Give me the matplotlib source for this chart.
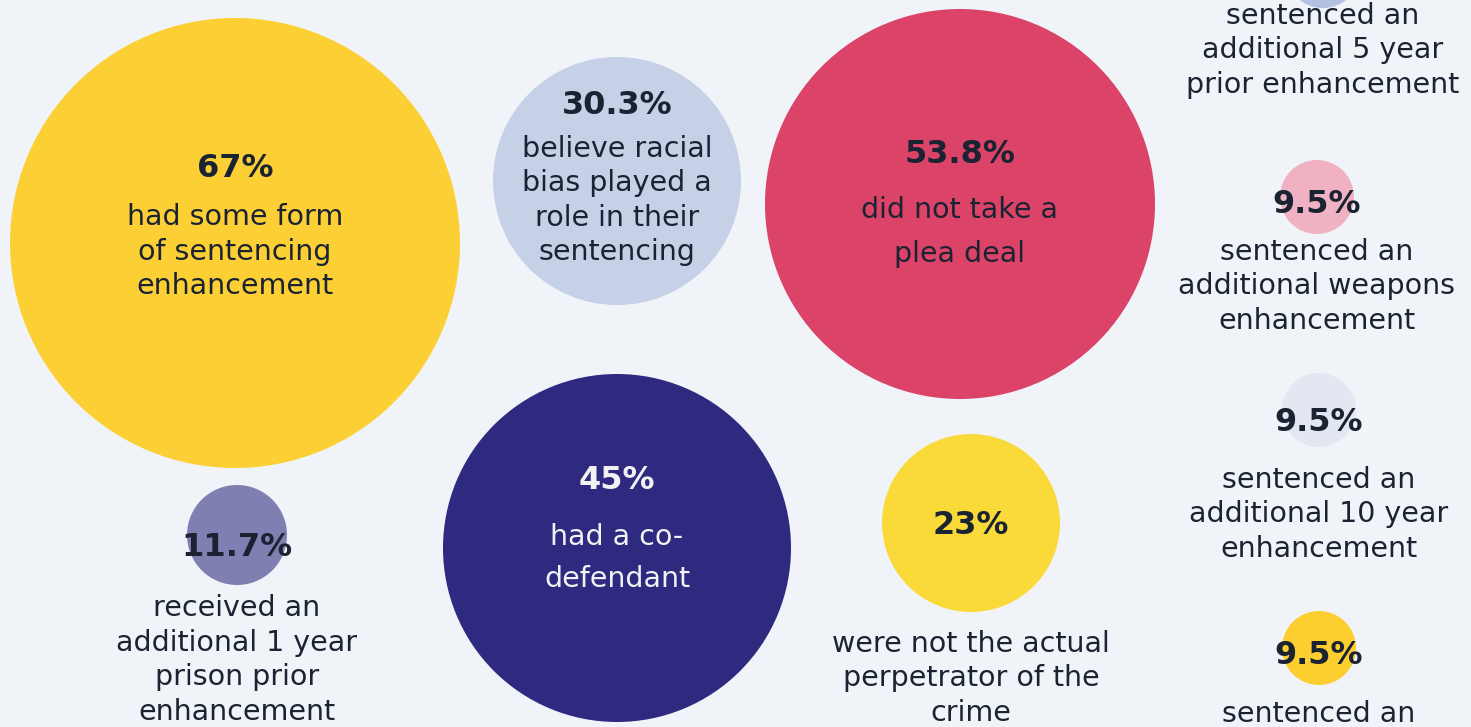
import matplotlib.pyplot as plt
from matplotlib.patches import Circle

# percentages shown in the bubbles
values = ["67%", "30.3%", "53.8%", "45%", "23%", "11.7%", "9.5%", "9.5%", "9.5%", "9.5%"]
labels = [
    ["had some form", "of sentencing", "enhancement"],
    ["believe racial", "bias played a", "role in their", "sentencing"],
    ["did not take a", "plea deal"],
    ["had a co-", "defendant"],
    ["were not the actual", "perpetrator of the", "crime"],
    ["received an", "additional 1 year", "prison prior", "enhancement"],
    ["sentenced an", "additional 5 year", "prior enhancement"],
    ["sentenced an", "additional weapons", "enhancement"],
    ["sentenced an", "additional 10 year", "enhancement"],
    ["sentenced an"],
]

# layout (pixel space of the picture)
cx = [235, 617, 960, 617, 971, 237, 1323, 1317, 1319, 1319]
cy = [243, 181, 204, 548, 523, 535, -30, 197, 410, 648]
rad = [225, 124, 195, 174, 89, 50, 38, 37, 37, 37]
pct_y = [177, 114, 163, 489, 534, 556, None, 213, 431, 664]
line_y0 = [225, 157, 218, 545, 652, 616, 24, 260, 488, 722]
line_gap = [34.5, 34.3, 44, 42, 34.5, 34.7, 34.3, 34.3, 34.5, 34.5]
colors = ["#FCCF34", "#C6D0E6", "#DC4369", "#2E2A7F", "#F9DA38",
          "#7F7FB2", "#B3C0E0", "#F0B2C3", "#E3E7F2", "#FDCE30"]
txt_colors = ["#1A2331"] * 3 + ["#F2F2F5"] + ["#1A2331"] * 6

bg = "#F0F4F9"
W, H = 1471, 727
fig = plt.figure(figsize=(W / 100, H / 100), dpi=100, facecolor=bg)
ax = fig.add_axes([0, 0, 1, 1])
ax.set_facecolor(bg)
ax.set_xlim(0, W)
ax.set_ylim(H, 0)
ax.axis("off")

font = "DejaVu Sans"
for i in range(len(values)):
    ax.add_patch(Circle((cx[i], cy[i]), rad[i], color=colors[i], lw=0))
    if pct_y[i] is not None:
        ax.text(cx[i], pct_y[i], values[i], ha="center", va="baseline",
                fontsize=23, fontweight="heavy", family=font, color=txt_colors[i])
    for j, line in enumerate(labels[i]):
        ax.text(cx[i], line_y0[i] + j * line_gap[i], line, ha="center", va="baseline",
                fontsize=20.5, family=font, color=txt_colors[i])

fig.savefig("out.png", dpi=100, facecolor=bg)
